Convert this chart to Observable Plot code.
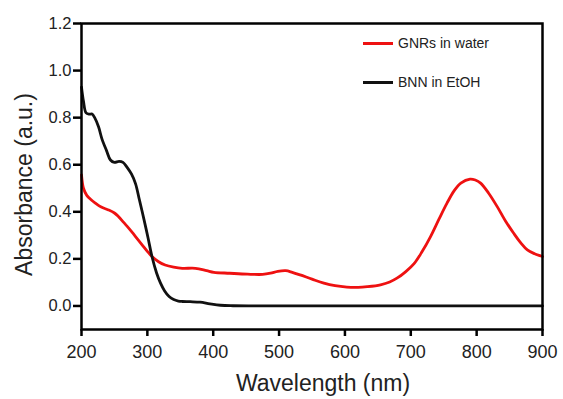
<!DOCTYPE html>
<html>
<head>
<meta charset="utf-8">
<script src="https://cdn.jsdelivr.net/npm/d3@7"></script>
<script src="https://cdn.jsdelivr.net/npm/@observablehq/plot@0.6"></script>
<style>
  html, body { margin: 0; padding: 0; background: #fff; }
  #wrap { position: relative; width: 563px; height: 399px; font-family: "Liberation Sans", Arial, sans-serif; }
  .leg { position: absolute; left: 363px; display: flex; align-items: center; font-size: 14px; color: #222; }
  .leg .sw { width: 30px; height: 3px; margin-right: 5px; }
</style>
</head>
<body>
<div id="wrap"></div>
<script>
// ---- data ----
const seriesNames = ["GNRs in water", "BNN in EtOH"];
const seriesColors = ["#ee1111", "#111111"];

const gnrWavelength = [200, 203, 208, 215, 221, 230, 241, 250, 256, 264, 272, 282, 292, 300, 307, 317, 327, 340, 353, 373, 390, 401, 425, 452, 475, 487, 498, 510, 520, 532, 550, 568, 585, 603, 620, 634, 654, 668, 679, 692, 705, 717, 730, 743, 755, 766, 776, 790, 798, 806, 818, 831, 844, 856, 867, 877, 888, 897, 900];
const gnrAbs = [0.557, 0.50, 0.47, 0.45, 0.437, 0.42, 0.408, 0.395, 0.38, 0.355, 0.33, 0.295, 0.26, 0.232, 0.21, 0.188, 0.174, 0.165, 0.16, 0.16, 0.15, 0.143, 0.139, 0.135, 0.134, 0.139, 0.147, 0.15, 0.143, 0.132, 0.114, 0.097, 0.086, 0.08, 0.079, 0.082, 0.09, 0.102, 0.118, 0.145, 0.18, 0.23, 0.295, 0.37, 0.437, 0.49, 0.522, 0.539, 0.535, 0.522, 0.48, 0.423, 0.36, 0.31, 0.268, 0.238, 0.222, 0.213, 0.21];

const bnnWavelength = [200, 203, 207, 212, 216, 220, 226, 231, 238, 244, 250, 257, 263, 269, 276, 282, 288, 295, 301, 307, 314, 320, 326, 333, 340, 347, 353, 365, 380, 395, 411, 430, 500, 600, 700, 800, 900];
const bnnAbs = [0.93, 0.87, 0.82, 0.815, 0.815, 0.80, 0.76, 0.71, 0.66, 0.62, 0.61, 0.614, 0.61, 0.59, 0.56, 0.52, 0.45, 0.366, 0.29, 0.21, 0.14, 0.097, 0.065, 0.04, 0.027, 0.021, 0.019, 0.018, 0.016, 0.009, 0.003, 0.001, 0, 0, 0, 0, 0];

const xTicks = [200, 300, 400, 500, 600, 700, 800, 900];
const yTicks = [0.0, 0.2, 0.4, 0.6, 0.8, 1.0, 1.2];
const xLabel = "Wavelength (nm)";
const yLabel = "Absorbance (a.u.)";

// ---- build table ----
const rows = [];
gnrWavelength.forEach((w, i) => rows.push({series: seriesNames[0], w, a: gnrAbs[i]}));
bnnWavelength.forEach((w, i) => rows.push({series: seriesNames[1], w, a: bnnAbs[i]}));

const font = "Liberation Sans, Arial, sans-serif";

const chart = Plot.plot({
  width: 563,
  height: 399,
  marginLeft: 81,
  marginRight: 21,
  marginTop: 23,
  marginBottom: 70,
  style: {fontFamily: font, background: "#fff", overflow: "visible"},
  x: {domain: [200, 900]},
  y: {domain: [-0.1, 1.2]},
  color: {domain: seriesNames, range: seriesColors},
  marks: [
    Plot.axisY({ticks: yTicks, tickFormat: d => d.toFixed(1), tickSize: 8, tickPadding: 2, strokeWidth: 2.5, fontSize: 16.5, fill: "#222", label: null}),
    Plot.axisX({ticks: xTicks, tickFormat: d => String(d), tickSize: 7, tickPadding: 9, strokeWidth: 2.5, fontSize: 18, fill: "#222", label: null}),
    Plot.line(rows, {x: "w", y: "a", z: "series", stroke: "series", strokeWidth: 2.8, curve: "catmull-rom"}),
    Plot.frame({stroke: "#000", strokeWidth: 2.5}),
    Plot.text([xLabel], {frameAnchor: "bottom", textAnchor: "middle", lineAnchor: "middle", dy: 54, dx: 11, fontSize: 23, fill: "#222", text: d => d}),
    Plot.text([yLabel], {frameAnchor: "left", textAnchor: "middle", lineAnchor: "middle", dx: -57, dy: 8, rotate: -90, fontSize: 23, fill: "#222", text: d => d})
  ]
});

const wrap = document.getElementById("wrap");
wrap.appendChild(chart);

// legend (HTML overlay)
const legendTops = [43, 82];
seriesNames.forEach((name, i) => {
  const d = document.createElement("div");
  d.className = "leg";
  d.style.top = (legendTops[i] - 9) + "px";
  d.style.height = "18px";
  const sw = document.createElement("span");
  sw.className = "sw";
  sw.style.background = seriesColors[i];
  const t = document.createElement("span");
  t.textContent = name;
  d.appendChild(sw);
  d.appendChild(t);
  wrap.appendChild(d);
});
</script>
</body>
</html>
